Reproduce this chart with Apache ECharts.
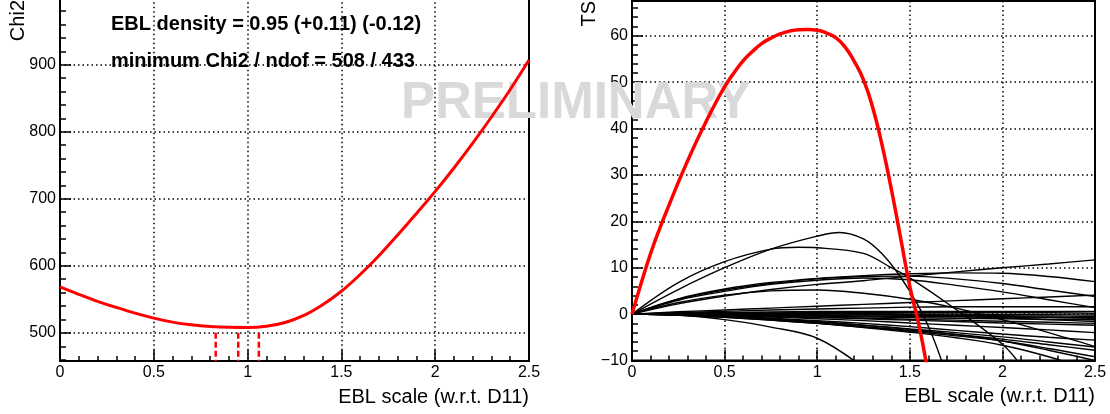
<!DOCTYPE html>
<html>
<head>
<meta charset="UTF-8">
<title>EBL scale scan</title>
<script src="https://cdn.jsdelivr.net/npm/echarts@6.0.0/dist/echarts.min.js"></script>
<style>
  html, body { margin: 0; padding: 0; background: #fff; }
  #chart { width: 1110px; height: 414px; }
</style>
</head>
<body>
<div id="chart"></div>
<script>
// ---- left panel: Chi2 versus EBL scale ----
var chi2X = [0, 0.1, 0.2, 0.3, 0.4, 0.5, 0.6, 0.7, 0.8, 0.9, 1.0, 1.1, 1.2,
             1.3, 1.4, 1.5, 1.6, 1.7, 1.8, 1.9, 2.0, 2.1, 2.2, 2.3, 2.4, 2.5];
var chi2Y = [568.5, 557.5, 547, 538, 529.5, 522, 516, 512, 509.5, 508.2, 508, 510, 515.5,
             526, 542, 562, 587, 615, 646, 678, 711, 746, 783, 822, 863, 907];
var fitMarks = [0.83, 0.95, 1.06];   // -1 sigma, best fit, +1 sigma
var fitMarkTop = 500;
var chi2Range = [458, 1000];
var chi2Major = [500, 600, 700, 800, 900];

// ---- right panel: TS versus EBL scale ----
var stackedX = [0, 0.05, 0.1, 0.15, 0.2, 0.25, 0.3, 0.35, 0.4, 0.45, 0.5, 0.55, 0.6,
                0.65, 0.7, 0.75, 0.8, 0.85, 0.9, 0.95, 1.0, 1.05, 1.1, 1.15, 1.2,
                1.25, 1.3, 1.35, 1.4, 1.45, 1.5, 1.55, 1.6];
var stackedTS = [0, 6.7, 13, 18.5, 23.5, 28.4, 33, 37.4, 41.5, 45.4, 49, 52, 54.6,
                 56.6, 58.3, 59.5, 60.4, 61, 61.3, 61.35, 61.2, 60.6, 59.6, 57.6, 54.5,
                 50.5, 44.5, 36.5, 27, 16.5, 6, -2.5, -13];

var brightAX = [0, 0.25, 0.5, 0.75, 1, 1.12, 1.25, 1.35, 1.45, 1.55, 1.62, 1.68];
var brightA  = [0, 5.3, 10, 14, 16.8, 17.6, 16.2, 13, 8, 1.5, -4.5, -11];
var brightBX = [0, 0.25, 0.5, 0.75, 0.9, 1.0, 1.25, 1.4, 1.5, 1.75, 2.0, 2.1];
var brightB  = [0, 6.8, 11.3, 14, 14.4, 14.3, 13.1, 10, 7.8, 1, -6.5, -11];

var sourceX = [0, 0.25, 0.5, 0.75, 1, 1.25, 1.5, 1.75, 2, 2.25, 2.5];
var sourceTS = [
  [0, 2.2, 3.9, 5.3, 6.4, 7.2, 8.2, 9.1, 10.0, 10.8, 11.7],
  [0, 3.3, 5.4, 6.8, 7.7, 8.3, 8.7, 8.9, 8.8, 8.1, 7.0],
  [0, 3.2, 5.2, 6.6, 7.6, 8.1, 8.2, 7.6, 6.6, 5.2, 3.8],
  [0, 3.0, 4.9, 6.4, 7.3, 7.8, 7.4, 6.2, 4.8, 3.1, 1.4],
  [0, 2.5, 4.1, 5.0, 5.2, 4.5, 3.2, 1.3, -1.2, -4.0, -7.0],
  [0, 0.5, 0.9, 1.3, 1.7, 2.1, 2.5, 2.9, 3.3, 3.7, 4.1],
  [0, 0.3, 0.6, 0.9, 1.1, 1.3, 1.5, 1.6, 1.6, 1.6, 1.6],
  [0, 0.2, 0.35, 0.45, 0.55, 0.6, 0.6, 0.6, 0.6, 0.6, 0.6],
  [0, 0.1, 0.2, 0.25, 0.3, 0.3, 0.3, 0.3, 0.3, 0.3, 0.2],
  [0, 0.05, 0.1, 0.1, 0.1, 0.05, 0, 0, -0.1, -0.1, -0.2],
  [0, 0, -0.05, -0.1, -0.15, -0.2, -0.25, -0.3, -0.35, -0.4, -0.5],
  [0, -0.05, -0.1, -0.2, -0.3, -0.4, -0.5, -0.6, -0.65, -0.7, -0.8],
  [0, -0.05, -0.15, -0.3, -0.45, -0.6, -0.75, -0.9, -1.0, -1.1, -1.2],
  [0, 0.1, 0.15, 0.15, 0.1, 0, -0.2, -0.5, -0.8, -1.2, -1.6],
  [0, -0.1, -0.25, -0.45, -0.65, -0.85, -1.1, -1.3, -1.55, -1.75, -2.0],
  [0, -0.1, -0.3, -0.5, -0.75, -1.0, -1.3, -1.6, -1.9, -2.15, -2.4],
  [0, 0.1, 0.2, 0.2, 0.15, 0.05, -0.1, -0.3, -0.5, -0.7, -0.9],
  [0, -0.1, -0.35, -0.65, -1.0, -1.4, -1.9, -2.4, -2.9, -3.4, -4.0],
  [0, -0.15, -0.5, -0.9, -1.4, -2.0, -2.7, -3.5, -4.3, -5.0, -5.6],
  [0, -0.2, -0.6, -1.1, -1.7, -2.4, -3.2, -4.0, -4.9, -6.0, -7.1],
  [0, -0.2, -0.6, -1.2, -1.9, -2.7, -3.5, -4.4, -5.4, -6.6, -7.8],
  [0, -0.25, -0.7, -1.3, -2.0, -2.8, -3.7, -4.7, -5.8, -7.4, -9.2],
  [0, -0.2, -0.7, -1.3, -2.0, -2.9, -3.9, -5.1, -6.7, -9.2, -12.5],
  [0, -0.15, -0.5, -1.0, -1.6, -2.4, -3.3, -4.4, -5.8, -7.8, -10.0],
  [0, -0.2, -1.2, -2.8, -5.2, -11.5, null, null, null, null, null]
];
var tsRange = [-10, 67.5];
var tsMajor = [-10, 0, 10, 20, 30, 40, 50, 60];

var FONT = '"Liberation Sans", Arial, Helvetica, sans-serif';
var DOTS = { color: '#000', width: 1.5, type: [1.5, 3] };

function pairs(xs, ys) {
  return xs.map(function (x, i) { return [x, ys[i]]; });
}
function minorValues(lo, hi, step) {
  var out = [];
  for (var v = lo; v <= hi + 1e-9; v += step) out.push(Math.round(v * 100) / 100);
  return out;
}

function xAxisFor(gi) {
  return {
    type: 'value', gridIndex: gi, min: 0, max: 2.5, interval: 0.5,
    axisLine: { show: true, onZero: false, lineStyle: { color: '#000', width: 2 } },
    axisTick: { show: true, inside: true, length: 11, lineStyle: { color: '#000', width: 1.5 } },
    minorTick: { show: true, splitNumber: 5, length: 5, lineStyle: { color: '#000', width: 1.5 } },
    axisLabel: { color: '#000', fontSize: 16, fontFamily: FONT, margin: 4 },
    splitLine: { show: true, lineStyle: DOTS },
    name: 'EBL scale (w.r.t. D11)', nameLocation: 'end', nameGap: 0,
    nameTextStyle: { color: '#000', fontSize: 20, fontFamily: FONT, align: 'right',
                     verticalAlign: 'top', padding: [26, 0, 0, 0] }
  };
}
function yMajor(gi, range, ticks, fmt) {
  return {
    type: 'value', gridIndex: gi, min: range[0], max: range[1], position: 'left', offset: 0,
    axisLine: { show: true, onZero: false, lineStyle: { color: '#000', width: 2 } },
    axisTick: { show: true, inside: true, length: 11, customValues: ticks,
                lineStyle: { color: '#000', width: 1.5 } },
    axisLabel: { color: '#000', fontSize: 16, fontFamily: FONT, margin: 4,
                 customValues: ticks, formatter: fmt },
    splitLine: { show: true, lineStyle: DOTS }
  };
}
function yMinor(gi, range, ticks) {
  return {
    type: 'value', gridIndex: gi, min: range[0], max: range[1], position: 'left', offset: 0,
    axisLine: { show: false },
    axisTick: { show: true, inside: true, length: 6, customValues: ticks,
                lineStyle: { color: '#000', width: 1.5 } },
    axisLabel: { show: false },
    splitLine: { show: false }
  };
}

var series = [];
series.push({
  type: 'line', xAxisIndex: 0, yAxisIndex: 0, data: pairs(chi2X, chi2Y),
  smooth: 0.3, showSymbol: false, z: 5,
  lineStyle: { color: '#ff0000', width: 3 }
});
fitMarks.forEach(function (x) {
  series.push({
    type: 'line', xAxisIndex: 0, yAxisIndex: 0,
    data: [[x, fitMarkTop], [x, chi2Range[0]]], showSymbol: false, z: 4,
    lineStyle: { color: '#ff0000', width: 2.5, type: [6, 3] }
  });
});
sourceTS.forEach(function (ys) {
  series.push({
    type: 'line', xAxisIndex: 1, yAxisIndex: 2, data: pairs(sourceX, ys),
    smooth: 0.35, showSymbol: false, connectNulls: false, z: 3,
    lineStyle: { color: '#000', width: 1.4 }
  });
});
[[brightAX, brightA], [brightBX, brightB]].forEach(function (c) {
  series.push({
    type: 'line', xAxisIndex: 1, yAxisIndex: 2, data: pairs(c[0], c[1]),
    smooth: 0.35, showSymbol: false, z: 3,
    lineStyle: { color: '#000', width: 1.4 }
  });
});
series.push({
  type: 'line', xAxisIndex: 1, yAxisIndex: 2, data: pairs(stackedX, stackedTS),
  smooth: 0.5, showSymbol: false, z: 5,
  lineStyle: { color: '#ff0000', width: 3.5 }
});

var chart = echarts.init(document.getElementById('chart'), null, { renderer: 'canvas' });
chart.setOption({
  animation: false,
  backgroundColor: '#fff',
  textStyle: { fontFamily: FONT },
  grid: [
    { left: 60, right: 581, top: -2.3, height: 363.3, show: true, borderColor: '#000',
      borderWidth: 2, outerBoundsMode: 'none', containLabel: false },
    { left: 632, right: 15, top: 1, height: 359.5, show: true, borderColor: '#000',
      borderWidth: 2, outerBoundsMode: 'none', containLabel: false }
  ],
  xAxis: [xAxisFor(0), xAxisFor(1)],
  yAxis: [
    yMajor(0, chi2Range, chi2Major),
    yMinor(0, chi2Range, minorValues(460, 1000, 20)),
    yMajor(1, tsRange, tsMajor, function (v) { return String(v).replace('-', '\u2212'); }),
    yMinor(1, tsRange, minorValues(-10, 66, 2))
  ],
  graphic: [
    { type: 'text', x: 401, y: 104, z: 1,
      style: { text: 'PRELIMINARY', fill: '#d9d9d9', font: 'bold 51px ' + FONT,
               align: 'left', verticalAlign: 'middle' } },
    { type: 'text', x: 111, y: 24, z: 10,
      style: { text: 'EBL density = 0.95 (+0.11) (-0.12)', fill: '#000',
               font: 'bold 20px ' + FONT, align: 'left', verticalAlign: 'middle' } },
    { type: 'text', x: 111, y: 61, z: 10,
      style: { text: 'minimum Chi2 / ndof = 508 / 433', fill: '#000',
               font: 'bold 20px ' + FONT, align: 'left', verticalAlign: 'middle' } },
    { type: 'text', x: 18, y: 0, rotation: Math.PI / 2, z: 10,
      style: { text: 'Chi2', fill: '#000', font: '20px ' + FONT,
               align: 'right', verticalAlign: 'middle' } },
    { type: 'text', x: 589, y: 1, rotation: Math.PI / 2, z: 10,
      style: { text: 'TS', fill: '#000', font: '20px ' + FONT,
               align: 'right', verticalAlign: 'middle' } }
  ],
  series: series
});
</script>
</body>
</html>
